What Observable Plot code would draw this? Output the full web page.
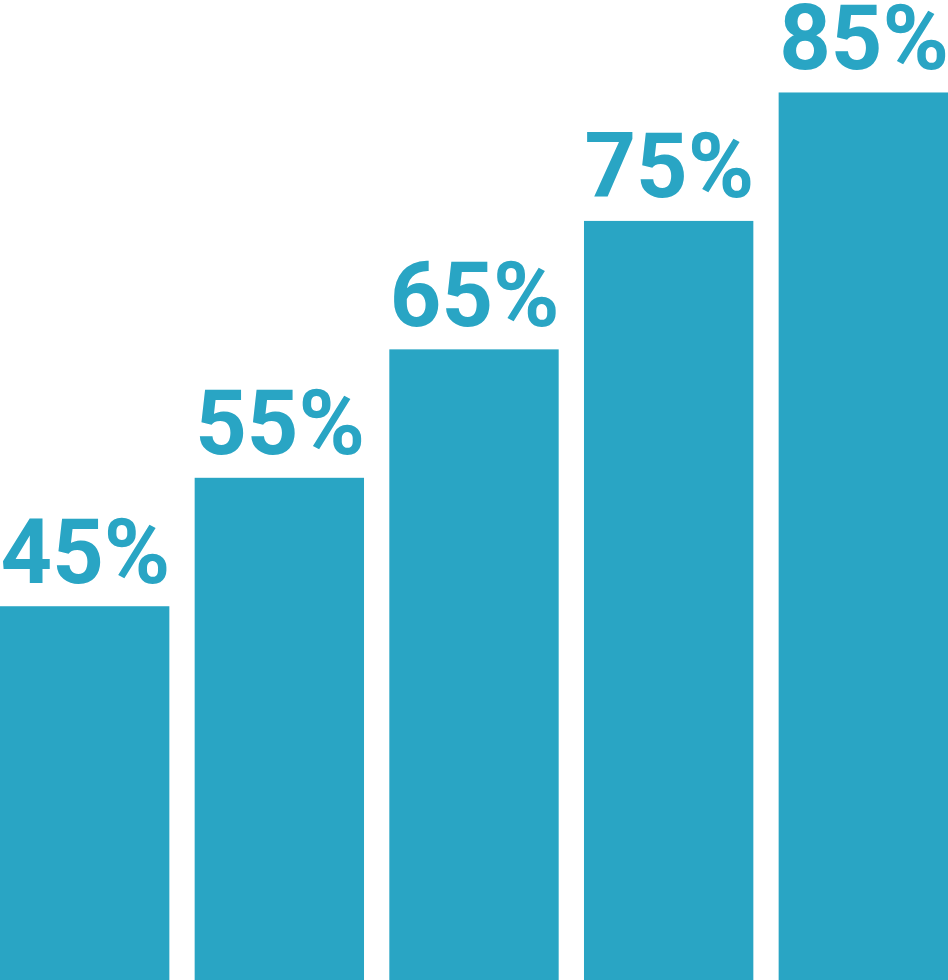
<!DOCTYPE html>
<html>
<head>
<meta charset="utf-8">
<script src="https://cdn.jsdelivr.net/npm/d3@7"></script>
<script src="https://cdn.jsdelivr.net/npm/@observablehq/plot@0.6"></script>
<style>
  html, body { margin: 0; padding: 0; background: #ffffff; }
  #chart svg { display: block; }
</style>
</head>
<body>
<div id="chart"></div>
<script>
const categories = ["A", "B", "C", "D", "E"];
const values = [45, 55, 65, 75, 85];
const labels = ["45%", "55%", "65%", "75%", "85%"];
const baseline = 15.9;
const yMax = 92.2;

const data = categories.map((c, i) => ({ cat: c, value: values[i], label: labels[i] }));
const color = "#29A5C4";

const W = 948, H = 980;
const padding = 0.13;
const step = W / (categories.length - padding);
const bw = step * (1 - padding);

const chart = Plot.plot({
  width: W,
  height: H,
  margin: 0,
  style: { background: "#ffffff", overflow: "visible" },
  x: { domain: categories, paddingInner: padding, paddingOuter: 0, round: false, axis: null },
  y: { domain: [baseline, yMax], axis: null },
  marks: [
    Plot.barY(data, { x: "cat", y1: baseline, y2: "value", fill: color }),
    Plot.text(data, {
      x: "cat", y: "value", text: "label",
      textAnchor: "start", lineAnchor: "bottom",
      dx: -bw / 2, dy: -24,
      fill: color,
      fontSize: 90, fontWeight: "bold",
      fontFamily: "Roboto, Liberation Sans, Arial, sans-serif"
    })
  ]
});
document.getElementById("chart").appendChild(chart);
</script>
</body>
</html>
